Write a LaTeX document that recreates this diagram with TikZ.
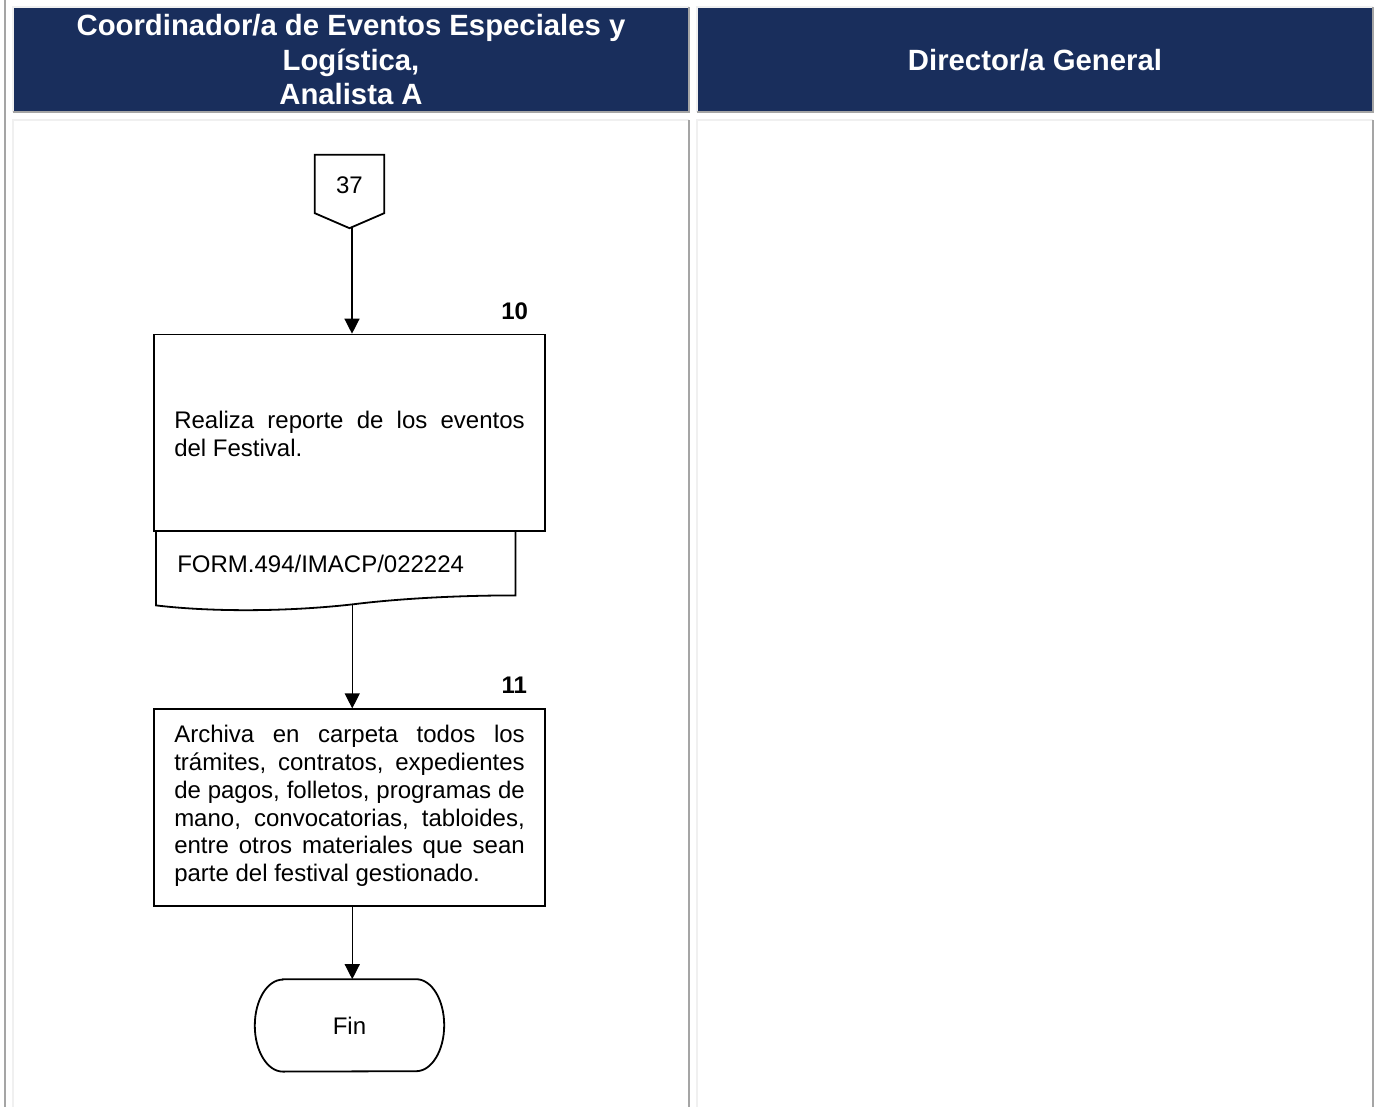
\documentclass[tikz,border=0pt]{standalone}
\usepackage{fontspec}
\setmainfont{Liberation Sans}
\usetikzlibrary{positioning, arrows.meta}
\definecolor{navy}{RGB}{25,46,92}
\definecolor{edgegrey}{RGB}{165,165,165}
\definecolor{edgelight}{RGB}{240,240,240}
\newcommand{\lifted}[2]{\raisebox{#1}[\height][\depth]{#2}}

\begin{document}
\begin{tikzpicture}[
        x=1pt, y=-1pt,
        header/.style={fill=navy, text=white, minimum width=676pt, minimum height=105pt, inner sep=0pt, align=center, font=\fontsize{29.3}{34.2}\selectfont\bfseries},
        stepbox/.style={draw, line width=1.8pt, minimum width=391.5pt, minimum height=196.5pt, inner sep=0pt},
        steptext/.style={text width=350.5pt, inner sep=0pt, align=justify, font=\fontsize{24}{27.8}\selectfont},
        plain/.style={inner sep=0pt, font=\fontsize{24}{27.8}\selectfont},
        numlabel/.style={inner sep=0pt, font=\fontsize{24}{27.8}\selectfont\bfseries},
        outline/.style={line width=1.8pt},
        link/.style={->, line width=1.3pt},
        dark/.style={edgegrey, line width=2pt},
        light/.style={edgelight, line width=2pt},
        >={Triangle[length=15pt, width=15pt]}]

        \useasboundingbox (0,0) rectangle (1377,1107);

        % Encabezados
        \node (hcoord) [header] at (351,59.5) {Coordinador/a de Eventos Especiales y\\[1pt]Logística,\\[-1pt]Analista A};
        \node (hdir) [header] at (1035,59.5) {\lifted{-1pt}{Director/a General}};

        \draw[light] (hcoord.south west) -- (hcoord.north west) -- (hcoord.north east);
        \draw[light] (hdir.south west) -- (hdir.north west) -- (hdir.north east);
        \draw[dark] (hcoord.north east) -- (hcoord.south east) -- (hcoord.south west);
        \draw[dark] (hdir.north east) -- (hdir.south east) -- (hdir.south west);

        % Celdas
        \draw[dark] (5,0) -- (5,1107);
        \draw[light] (13,1107) -- (13,120.5) -- (689,120.5);
        \draw[dark] (689,120) -- (689,1107);
        \draw[light] (697,1107) -- (697,120.5) -- (1373,120.5);
        \draw[dark] (1373,120) -- (1373,1107);

        % Nodos del diagrama
        \node (off) [plain, minimum width=69pt, minimum height=58pt] at (349.5,184) {\lifted{-1pt}{37}};
        \node (act10) [stepbox, below=120.5pt of off.south, anchor=north] {};
        \node (txt10) [steptext] at ([yshift=-0.8pt]act10.center) {Realiza reporte de los eventos del Festival.};
        \node (doc) [plain, below=0pt of act10.south, anchor=north, xshift=-13.75pt, minimum width=359pt, minimum height=63pt, text width=317pt, align=left, inner xsep=21pt] {FORM.494/IMACP/022224};
        \node (act11) [stepbox, below=113pt of doc.south, xshift=13.75pt, anchor=north] {};
        \node (txt11) [steptext] at ([yshift=1.5pt]act11.center) {Archiva en carpeta todos los trámites, contratos, expedientes de pagos, folletos, programas de mano, convocatorias, tabloides, entre otros materiales que sean parte del festival gestionado.};
        \node (fin) [plain, below=72.5pt of act11.south, anchor=north, minimum width=189pt, minimum height=92pt] {Fin};

        % Numeros
        \node (n10) [numlabel, above left=14pt and 18pt of act10.north east] {10};
        \node (n11) [numlabel, above left=14.5pt and 19pt of act11.north east] {11};

        % Contornos
        \coordinate (wavel) at ([yshift=-10pt]doc.south west);
        \coordinate (docout) at ([shift={(16.5,9)}]doc.south);
        \coordinate (offtip) at ([yshift=-15pt]off.south);
        \draw[outline] (off.north west) -- (off.north east) -- (off.south east) -- (offtip) -- (off.south west) -- cycle;
        \draw[outline] (doc.north west) -- (wavel) .. controls +(59,7) and +(-62,7) .. (docout) .. controls +(48,-6) and +(-55,0) .. (doc.south east) -- (doc.north east);
        \draw[outline] ([xshift=28pt]fin.north west) -- ([xshift=-28pt]fin.north east)
            arc[start angle=90, end angle=-90, x radius=28pt, y radius=46pt] -- ([xshift=28pt]fin.south west)
            arc[start angle=270, end angle=90, x radius=28pt, y radius=46pt] -- cycle;

        % Conexiones
        \draw[link] ([xshift=2.5pt]offtip) -- ([xshift=2.5pt]offtip |- act10.north);
        \draw[link] (docout) -- (docout |- act11.north);
        \draw[link] ([xshift=2.75pt]act11.south) -- ([xshift=2.75pt]act11.south |- fin.north);
\end{tikzpicture}
\end{document}
